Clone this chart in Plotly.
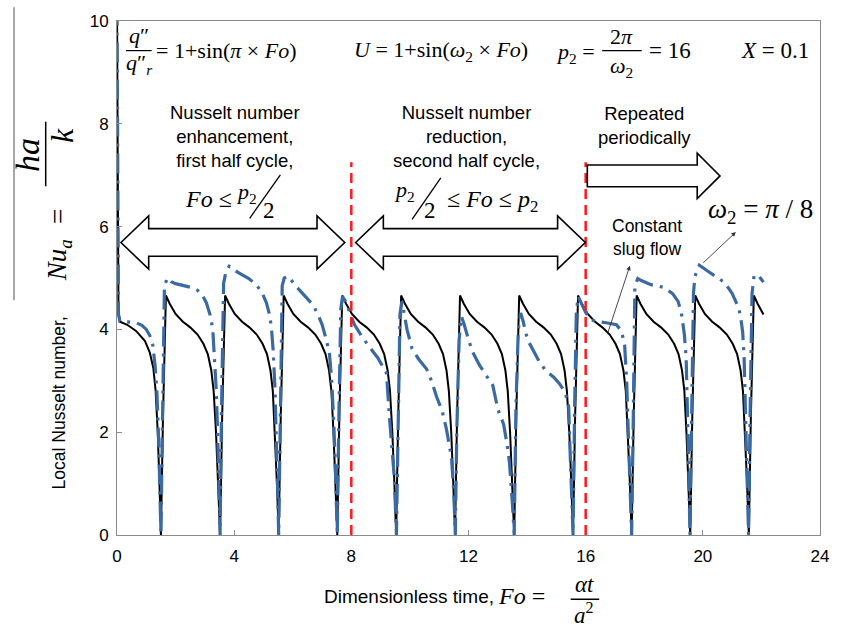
import plotly.graph_objects as go

# ---- data: local Nusselt number vs Fourier number at X = 0.1 ----
# constant slug flow (solid black)
fo_slug = [
    0.0, 0.02, 0.05, 0.1, 0.35, 0.65, 0.95, 1.12, 1.24, 1.32, 1.39, 1.45, 1.5,
    1.57, 1.67, 1.8, 2.0, 2.25, 2.5, 2.75, 2.95, 3.1, 3.22, 3.3, 3.38, 3.45, 3.52,
    3.59, 3.69, 3.82, 4.02, 4.27, 4.52, 4.77, 4.97, 5.12, 5.24, 5.32, 5.39, 5.46, 5.52,
    5.59, 5.69, 5.82, 6.02, 6.27, 6.52, 6.77, 6.97, 7.12, 7.24, 7.32, 7.39, 7.46, 7.52,
    7.59, 7.69, 7.82, 8.02, 8.27, 8.52, 8.77, 8.97, 9.12, 9.24, 9.32, 9.4, 9.47, 9.53,
    9.6, 9.7, 9.83, 10.03, 10.28, 10.53, 10.78, 10.98, 11.13, 11.25, 11.33, 11.41, 11.48, 11.54,
    11.61, 11.71, 11.84, 12.04, 12.29, 12.54, 12.79, 12.99, 13.14, 13.26, 13.34, 13.42, 13.49, 13.56,
    13.63, 13.73, 13.86, 14.06, 14.31, 14.56, 14.81, 15.01, 15.16, 15.28, 15.36, 15.44, 15.51, 15.57,
    15.64, 15.74, 15.87, 16.07, 16.32, 16.57, 16.82, 17.02, 17.17, 17.29, 17.37, 17.44, 17.51, 17.57,
    17.64, 17.74, 17.87, 18.07, 18.32, 18.57, 18.82, 19.02, 19.17, 19.29, 19.37, 19.44, 19.51, 19.57,
    19.64, 19.74, 19.87, 20.07, 20.32, 20.57, 20.82, 21.02, 21.17, 21.29, 21.37, 21.44, 21.51, 21.57,
    21.64, 21.74, 21.87, 22.07,
]
nu_slug = [
    10.3, 6.2, 4.3, 4.15, 4.09, 3.97, 3.78, 3.55, 3.25, 2.8, 2.0, 1.0, 0.0,
    2.3, 4.66, 4.5, 4.3, 4.15, 4.04, 3.9, 3.72, 3.52, 3.2, 2.8, 2.0, 1.0, 0.0,
    2.3, 4.66, 4.5, 4.3, 4.15, 4.04, 3.9, 3.72, 3.52, 3.2, 2.8, 2.0, 1.0, 0.0,
    2.3, 4.66, 4.5, 4.3, 4.15, 4.04, 3.9, 3.72, 3.52, 3.2, 2.8, 2.0, 1.0, 0.0,
    2.3, 4.66, 4.5, 4.3, 4.15, 4.04, 3.9, 3.72, 3.52, 3.2, 2.8, 2.0, 1.0, 0.0,
    2.3, 4.66, 4.5, 4.3, 4.15, 4.04, 3.9, 3.72, 3.52, 3.2, 2.8, 2.0, 1.0, 0.0,
    2.3, 4.66, 4.5, 4.3, 4.15, 4.04, 3.9, 3.72, 3.52, 3.2, 2.8, 2.0, 1.0, 0.0,
    2.3, 4.66, 4.5, 4.3, 4.15, 4.04, 3.9, 3.72, 3.52, 3.2, 2.8, 2.0, 1.0, 0.0,
    2.3, 4.66, 4.5, 4.3, 4.15, 4.04, 3.9, 3.72, 3.52, 3.2, 2.8, 2.0, 1.0, 0.0,
    2.3, 4.66, 4.5, 4.3, 4.15, 4.04, 3.9, 3.72, 3.52, 3.2, 2.8, 2.0, 1.0, 0.0,
    2.3, 4.66, 4.5, 4.3, 4.15, 4.04, 3.9, 3.72, 3.52, 3.2, 2.8, 2.0, 1.0, 0.0,
    2.3, 4.66, 4.5, 4.29,
]

# pulsating slug flow, omega_2 = pi/8 (blue dash-dot)
fo_pulse = [
    0.0, 0.02, 0.05, 0.1, 0.4, 0.65, 0.85, 1.0, 1.12, 1.22, 1.3, 1.36, 1.42, 1.47, 1.5,
    1.56, 1.62, 1.72, 1.85, 2.0, 2.2, 2.5, 2.75, 2.9, 3.05, 3.18, 3.27, 3.33, 3.39, 3.44, 3.48, 3.52,
    3.57, 3.64, 3.73, 3.83, 4.1, 4.5, 4.75, 4.95, 5.1, 5.2, 5.27, 5.33, 5.39, 5.44, 5.48, 5.52,
    5.58, 5.64, 5.71, 5.86, 6.05, 6.4, 6.7, 6.85, 7.0, 7.12, 7.25, 7.33, 7.4, 7.46, 7.52,
    7.58, 7.64, 7.7, 7.8, 7.93, 8.1, 8.32, 8.55, 8.9, 9.2, 9.3, 9.38, 9.47, 9.54,
    9.6, 9.66, 9.73, 9.8, 9.9, 10.07, 10.3, 10.57, 10.75, 10.91, 11.1, 11.25, 11.42, 11.5, 11.55,
    11.6, 11.68, 11.76, 11.85, 12.0, 12.15, 12.38, 12.6, 12.83, 13.0, 13.2, 13.32, 13.4, 13.5, 13.56,
    13.62, 13.7, 13.78, 13.87, 13.95, 14.07, 14.4, 14.63, 14.91, 15.1, 15.3, 15.42, 15.47, 15.52, 15.57,
    15.62, 15.68, 15.74, 15.85, 16.0, 16.15, 16.32, 16.7, 17.05, 17.18, 17.25, 17.33, 17.4, 17.46, 17.52, 17.57,
    17.63, 17.68, 17.78, 17.9, 18.23, 18.66, 18.96, 19.15, 19.26, 19.32, 19.37, 19.43, 19.48, 19.52, 19.56,
    19.62, 19.68, 19.73, 19.88, 20.15, 20.44, 20.75, 21.0, 21.23, 21.31, 21.36, 21.41, 21.46, 21.51, 21.56,
    21.62, 21.68, 21.75, 21.9, 22.07,
]
nu_pulse = [
    10.3, 6.2, 4.3, 4.16, 4.15, 4.13, 4.08, 4.0, 3.88, 3.7, 3.3, 2.8, 1.9, 0.9, 0.0,
    2.5, 4.85, 5.0, 4.93, 4.89, 4.86, 4.82, 4.76, 4.68, 4.52, 4.28, 4.0, 3.5, 2.8, 1.9, 0.9, 0.0,
    2.5, 4.9, 5.15, 5.23, 5.12, 4.99, 4.87, 4.72, 4.52, 4.3, 4.05, 3.6, 2.9, 2.0, 1.0, 0.0,
    2.5, 4.85, 5.0, 5.03, 4.88, 4.66, 4.47, 4.3, 4.1, 3.85, 3.55, 3.0, 2.2, 1.2, 0.0,
    2.5, 4.4, 4.64, 4.55, 4.35, 4.1, 3.9, 3.71, 3.45, 3.15, 2.3, 1.7, 1.1, 0.0,
    2.5, 4.3, 4.55, 4.35, 4.0, 3.63, 3.42, 3.23, 2.98, 2.69, 2.42, 2.05, 1.5, 0.8, 0.0,
    2.0, 3.8, 4.25, 4.1, 3.8, 3.55, 3.3, 3.1, 2.91, 2.45, 2.15, 1.75, 1.4, 0.6, 0.0,
    2.5, 4.0, 4.32, 4.15, 3.93, 3.74, 3.39, 3.2, 3.07, 2.95, 2.78, 2.5, 1.6, 0.8, 0.0,
    2.4, 4.3, 4.64, 4.5, 4.33, 4.2, 4.16, 4.13, 4.09, 4.0, 3.9, 3.7, 3.0, 1.9, 0.9, 0.0,
    2.5, 4.85, 4.99, 4.95, 4.87, 4.82, 4.7, 4.55, 4.35, 4.13, 3.9, 3.45, 2.4, 1.3, 0.0,
    2.6, 4.7, 5.03, 5.25, 5.14, 5.02, 4.91, 4.7, 4.41, 4.16, 3.95, 3.45, 2.4, 1.3, 0.0,
    2.6, 4.7, 5.05, 5.05, 4.92,
]

# half-period boundaries of the flow pulsation (p2/2 and p2)
half_cycle_marks = [8, 16]
x_ticks = [0, 4, 8, 12, 16, 20, 24]
y_ticks = [0, 2, 4, 6, 8, 10]

# ---- page geometry (pixels) ----
W, H = 841, 636
L, R, T, B = 117, 827, 14, 535


def px(x):
    return (x - L) / (R - L)


def py(y):
    return (B - y) / (B - T)


SANS = "Liberation Sans, Arial, sans-serif"
SERIF = "Liberation Serif, Times New Roman, serif"
BLUE = "#3b6aa3"
GREY = "#8a8a8a"

fig = go.Figure()

fig.add_trace(go.Scatter(
    x=fo_slug, y=nu_slug, mode="lines", name="Constant slug flow",
    line=dict(color="black", width=2), showlegend=False,
))
fig.add_trace(go.Scatter(
    x=fo_pulse, y=nu_pulse, mode="lines", name="omega2 = pi/8",
    line=dict(color=BLUE, width=3.2, dash="20px,7px,3px,7px"), showlegend=False,
))

shapes = []
annotations = []

# red dashed lines at the half-cycle boundaries
for xm in half_cycle_marks:
    shapes.append(dict(type="line", xref="x", yref="y", x0=xm, x1=xm, y0=0, y1=7.25,
                       line=dict(color="#ff1a1a", width=2.5, dash="10px,6px")))


def path_from(points):
    s = "M " + " L ".join(f"{px(a):.5f},{py(b):.5f}" for a, b in points) + " Z"
    return s


def double_arrow(xl, xr, yc, hl=28, hh=27, sh=14):
    pts = [(xl, yc), (xl + hl, yc - hh), (xl + hl, yc - sh), (xr - hl, yc - sh),
           (xr - hl, yc - hh), (xr, yc), (xr - hl, yc + hh), (xr - hl, yc + sh),
           (xl + hl, yc + sh), (xl + hl, yc + hh)]
    return dict(type="path", xref="paper", yref="paper", path=path_from(pts),
                fillcolor="white", line=dict(color="black", width=1.6), layer="above")


def single_arrow(x0, xr, yc, hl=23, hh=23, sh=11):
    pts = [(x0, yc - sh), (xr - hl, yc - sh), (xr - hl, yc - hh), (xr, yc),
           (xr - hl, yc + hh), (xr - hl, yc + sh), (x0, yc + sh)]
    return dict(type="path", xref="paper", yref="paper", path=path_from(pts),
                fillcolor="white", line=dict(color="black", width=1.6), layer="above")


shapes.append(double_arrow(121, 347, 238.5))
shapes.append(double_arrow(358, 590, 238.5))
shapes.append(single_arrow(592, 726, 171))


def text(x, y, s, size=16, family=SANS, anchor="center", angle=0, color="black"):
    annotations.append(dict(
        x=px(x), y=py(y), xref="paper", yref="paper", text=s, showarrow=False,
        xanchor=anchor, yanchor="middle", textangle=angle,
        font=dict(family=family, size=size, color=color),
    ))


def seg(x0, y0, x1, y1, width=1.2, color="black"):
    shapes.append(dict(type="line", xref="paper", yref="paper", layer="above",
                       x0=px(x0), x1=px(x1), y0=py(y0), y1=py(y1),
                       line=dict(color=color, width=width)))


def hbar(x0, x1, y, width=1.2):
    seg(x0, y, x1, y, width=width)


def rule(x0, y0, x1, y1, width=1.4, color="black"):
    # plain stroke drawn as a head-less annotation arrow (works outside the plot area)
    annotations.append(dict(x=px(x1), y=py(y1), xref="paper", yref="paper", text="",
                            showarrow=True, ax=x0 - x1, ay=y0 - y1,
                            axref="pixel", ayref="pixel", arrowhead=0, standoff=0,
                            startstandoff=0, arrowwidth=width, arrowcolor=color))


# ---- formulas along the top ----
FS = 22
text(139, 29, "<i>q</i>\u2033", FS, SERIF)
hbar(126, 152, 44)
text(140, 58, "<i>q</i>\u2033<sub><i>r</i></sub>", FS, SERIF)
text(154, 44, "= 1+sin(<i>\u03c0</i> \u00d7 <i>Fo</i>)", FS, SERIF, anchor="left")

text(354, 44, "<i>U</i> = 1+sin(<i>\u03c9</i><sub>2</sub> \u00d7 <i>Fo</i>)", FS, SERIF, anchor="left")

text(558, 46, "<i>p</i><sub>2</sub> =", FS, SERIF, anchor="left")
text(627, 30, "2<i>\u03c0</i>", FS, SERIF)
hbar(607, 647, 44)
text(627, 61, "<i>\u03c9</i><sub>2</sub>", FS, SERIF)
text(652, 44, "= 16", 23, SERIF, anchor="left")

text(745, 44, "<i>X</i> = 0.1", 23, SERIF, anchor="left")

# ---- region descriptions ----
DS = 18.5
text(236, 131, "Nusselt number<br>enhancement,<br>first half cycle,", DS)
text(209, 194, "<i>Fo</i> \u2264", 24, SERIF)
text(248, 188, "<i>p</i><sub>2</sub>", 22, SERIF)
text(271, 206, "2", 23, SERIF)
seg(251, 214, 282, 170, width=1.3)

text(470, 131, "Nusselt number<br>reduction,<br>second half cycle,", DS)
text(407, 186, "<i>p</i><sub>2</sub>", 22, SERIF)
text(433, 206, "2", 23, SERIF)
seg(415, 215, 444, 173, width=1.3)
text(448, 196, "\u2264 <i>Fo</i> \u2264 <i>p</i><sub>2</sub>", 24, SERIF, anchor="left")

text(650, 120, "Repeated<br>periodically", DS)

text(652, 233, "Constant<br>slug flow", 17.5)
text(712, 207, "<i>\u03c9</i><sub>2</sub> = <i>\u03c0</i> / 8", 27, SERIF, anchor="left")

# pointers from the labels to the curves
annotations.append(dict(x=px(635), y=py(262), xref="paper", yref="paper", text="",
                        showarrow=True, ax=-23, ay=70, axref="pixel", ayref="pixel",
                        arrowhead=2, arrowsize=1, arrowwidth=0.9, arrowcolor="#333333"))
annotations.append(dict(x=px(742), y=py(228), xref="paper", yref="paper", text="",
                        showarrow=True, ax=-34, ay=32, axref="pixel", ayref="pixel",
                        arrowhead=2, arrowsize=1, arrowwidth=0.9, arrowcolor="#333333"))

# ---- axis titles ----
text(412, 597, "Dimensionless time,", 19)
text(526, 597, "<i>Fo</i> =", 24, SERIF)
text(589, 585, "<i>\u03b1t</i>", 23, SERIF)
rule(574, 600, 604, 600, width=1.5)
text(589, 615, "<i>a</i><sup>2</sup>", 23, SERIF)

text(58, 401, "Local Nusselt number,", 17.5, angle=-90)
text(58, 257, "<i>Nu</i><sub><i>a</i></sub>", 27, SERIF, angle=-90)
text(58, 212, "=", 27, SERIF, angle=-90)
text(26, 150, "<i>ha</i>", 34, SERIF, angle=-90)
text(62, 130, "<i>k</i>", 32, SERIF, angle=-90)
rule(45, 182, 45, 116, width=1.5)
seg(13, 0, 13, 297, width=1.5, color=GREY)

fig.update_layout(
    width=W, height=H,
    margin=dict(l=L, r=W - R, t=T, b=H - B, pad=0),
    paper_bgcolor="white", plot_bgcolor="white",
    shapes=shapes, annotations=annotations,
    showlegend=False,
    xaxis=dict(range=[0, 24], tickvals=x_ticks, ticks="inside", ticklen=5,
               tickcolor=GREY, showline=True, linecolor=GREY, linewidth=1, mirror=True,
               showgrid=False, zeroline=False, ticklabelstandoff=6,
               tickfont=dict(family=SANS, size=17, color="black")),
    yaxis=dict(range=[0, 10], tickvals=y_ticks, ticks="inside", ticklen=5,
               tickcolor=GREY, showline=True, linecolor=GREY, linewidth=1, mirror=True,
               showgrid=False, zeroline=False, ticklabelstandoff=4,
               tickfont=dict(family=SANS, size=17, color="black")),
)

fig.write_html("out.html")
